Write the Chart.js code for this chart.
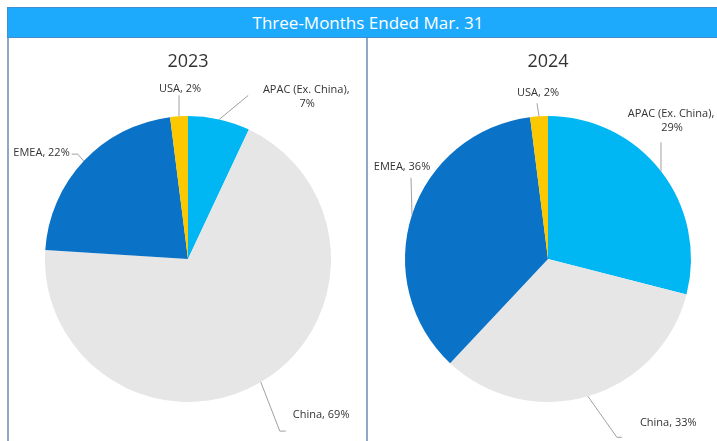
<!DOCTYPE html>
<html>
<head>
<meta charset="utf-8">
<script src="https://cdn.jsdelivr.net/npm/chart.js@4"></script>
<style>
  html, body { margin:0; padding:0; background:#fff; }
  body { width:717px; height:441px; overflow:hidden; position:relative; font-family:"Open Sans", sans-serif; }
  #header { position:absolute; left:7px; top:7px; width:720px; height:29px; box-sizing:content-box;
            background:#1eaafc; border-top:1px solid #3f8ed0; border-bottom:1px solid #3f8ed0; border-left:1px solid #3f8ed0;
            color:#fff; font-size:17px; line-height:29px; text-align:center; }
  .panel { position:absolute; top:38px; height:410px; width:360px; border-left:2px solid #8ea9c6; }
  canvas { position:absolute; }
</style>
</head>
<body>
<div id="header">Three-Months Ended Mar. 31</div>
<div class="panel" style="left:7px"></div>
<div class="panel" style="left:366px"></div>
<canvas id="c1" width="360" height="402" style="left:8px;top:39px"></canvas>
<canvas id="c2" width="360" height="402" style="left:368px;top:39px"></canvas>
<script>
// ---- data ----
const categories = ["APAC (Ex. China)", "China", "EMEA", "USA"];
const values2023 = [7, 69, 22, 2];
const values2024 = [29, 33, 36, 2];
const years = ["2023", "2024"];
const colors = ["#00b7f4", "#e6e6e6", "#0a72c7", "#fcc800"];

// ---- label leader layout (offsets from slice edge point) ----
const layout2023 = [
  { line: [[29,-24]], text: [88,-23], align: "center", wrap: true },
  { line: [[19,49],[25,49]], text: [32,33], align: "left" },
  { line: [[-6,-7],[-12,-7]], text: [-14,-8], align: "right" },
  { line: [[0,-21]], text: [1,-27], align: "center" }
];
const layout2024 = [
  { line: [[0,-29]], text: [11,-50], align: "center", wrap: true },
  { line: [[29,41],[34,41]], text: [52,27], align: "left" },
  { line: [[-1,-37]], text: [-10,-48], align: "center" },
  { line: [[-2,-13]], text: [-1,-23], align: "center" }
];

const leaderPlugin = {
  id: "leaders",
  afterDatasetsDraw(chart) {
    const ctx = chart.ctx;
    const meta = chart.getDatasetMeta(0);
    const lay = chart.options.plugins.leaders.layout;
    const data = chart.data.datasets[0].data;
    meta.data.forEach((arc, i) => {
      const p = arc.getProps(["x","y","startAngle","endAngle","outerRadius"], true);
      const mid = (p.startAngle + p.endAngle) / 2;
      const ex = p.x + p.outerRadius * Math.cos(mid);
      const ey = p.y + p.outerRadius * Math.sin(mid);
      const L = lay[i];
      ctx.save();
      ctx.strokeStyle = "#a0a0a0";
      ctx.lineWidth = 1;
      ctx.beginPath();
      ctx.moveTo(ex, ey);
      L.line.forEach(pt => ctx.lineTo(ex + pt[0], ey + pt[1]));
      ctx.stroke();
      ctx.fillStyle = "#333";
      ctx.font = '11px "Open Sans"';
      ctx.textAlign = L.align;
      ctx.textBaseline = "middle";
      const tx = ex + L.text[0], ty = ey + L.text[1];
      if (L.wrap) {
        ctx.fillText(chart.data.labels[i] + ",", tx - 1, ty - 7);
        ctx.fillText(data[i] + "%", tx, ty + 7);
      } else {
        ctx.fillText(chart.data.labels[i] + ", " + data[i] + "%", tx, ty);
      }
      ctx.restore();
    });
  }
};

function makeChart(id, title, values, lay) {
  return new Chart(document.getElementById(id), {
    type: "pie",
    data: {
      labels: categories,
      datasets: [{ data: values, backgroundColor: colors, borderWidth: 0 }]
    },
    options: {
      responsive: false,
      animation: false,
      devicePixelRatio: 1,
      radius: 143,
      layout: { padding: { top: 0, bottom: 32, left: 30, right: 30 } },
      plugins: {
        legend: { display: false },
        tooltip: { enabled: false },
        title: { display: true, text: title, color: "#333",
                 font: { family: "Open Sans", size: 18, weight: "normal" },
                 padding: { top: 12, bottom: 36.4 } },
        leaders: { layout: lay }
      }
    },
    plugins: [leaderPlugin]
  });
}
makeChart("c1", years[0], values2023, layout2023);
makeChart("c2", years[1], values2024, layout2024);
</script>
</body>
</html>
